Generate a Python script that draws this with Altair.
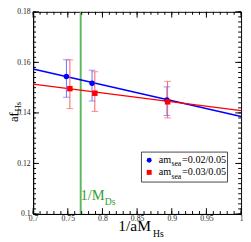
import altair as alt
import pandas as pd

# ---- data ----
series = ["0.02/0.05", "0.03/0.05"]
blue_x = [0.748, 0.785, 0.893]
blue_y = [0.1544, 0.1517, 0.1451]
blue_hi = [0.1610, 0.1569, 0.1503]
blue_lo = [0.1462, 0.1447, 0.1390]
red_x = [0.753, 0.789, 0.894]
red_y = [0.1496, 0.1478, 0.1444]
red_hi = [0.1610, 0.1563, 0.1525]
red_lo = [0.1417, 0.1406, 0.1380]
fit_x = [0.7, 1.0]
blue_fit = [0.1574, 0.1386]
red_fit = [0.1514, 0.1409]
inv_mds = 0.7686
x_major = [0.7, 0.75, 0.8, 0.85, 0.9, 0.95, 1.0]
y_major = [0.1, 0.12, 0.14, 0.16, 0.18]
x_minor = [round(0.7 + 0.01 * i, 3) for i in range(31)]
y_minor = [round(0.1 + 0.002 * i, 4) for i in range(41)]

W, H = 215, 209
FONT = "Liberation Serif"
BLUE, RED = "#0000ff", "#ff0000"

pts = pd.DataFrame({
    "x": blue_x + red_x,
    "y": blue_y + red_y,
    "hi": blue_hi + red_hi,
    "lo": blue_lo + red_lo,
    "s": [series[0]] * 3 + [series[1]] * 3,
})
fits = pd.DataFrame({
    "x": fit_x + fit_x,
    "y": blue_fit + red_fit,
    "s": [series[0]] * 2 + [series[1]] * 2,
})

xs = alt.Scale(domain=[0.7, 1.0], nice=False, zero=False)
ys = alt.Scale(domain=[0.1, 0.18], nice=False, zero=False)
col = alt.Scale(domain=series, range=[BLUE, RED])
ecol = alt.Scale(domain=series, range=["#6a6aff", "#ff5a5a"])

xaxis = alt.Axis(values=x_major, format="~g", title=None, ticks=False, tickSize=0,
                 labelFont=FONT, labelFontSize=8, labelColor="#222", grid=False,
                 labelFlush=False, labelOverlap=False, labelPadding=1,
                 domainColor="black")
yaxis = alt.Axis(values=y_major, format="~g", title=None, ticks=False, tickSize=0,
                 labelFont=FONT, labelFontSize=8, labelColor="#222", grid=False,
                 labelFlush=False, labelOverlap=False, labelPadding=3,
                 domainColor="black")

X = lambda f: alt.X(f, scale=xs, axis=xaxis, title=None)
Y = lambda f: alt.Y(f, scale=ys, axis=yaxis, title=None)

lines = alt.Chart(fits).mark_line(strokeWidth=1.5).encode(
    x=X("x:Q"), y=Y("y:Q"),
    color=alt.Color("s:N", scale=col, legend=None), detail="s:N")

vline = alt.Chart(pd.DataFrame({"x": [inv_mds]})).mark_rule(
    color="#5cb85c", strokeWidth=2).encode(x=X("x:Q"))

ebars = alt.Chart(pts).mark_rule(strokeWidth=1).encode(
    x=X("x:Q"), y=Y("lo:Q"), y2="hi:Q",
    color=alt.Color("s:N", scale=ecol, legend=None))
cap_hi = alt.Chart(pts).mark_tick(orient="horizontal", size=7, thickness=1).encode(
    x=X("x:Q"), y=Y("hi:Q"), color=alt.Color("s:N", scale=ecol, legend=None))
cap_lo = alt.Chart(pts).mark_tick(orient="horizontal", size=7, thickness=1).encode(
    x=X("x:Q"), y=Y("lo:Q"), color=alt.Color("s:N", scale=ecol, legend=None))

points = alt.Chart(pts).mark_point(filled=True, size=32, opacity=1).encode(
    x=X("x:Q"), y=Y("y:Q"),
    color=alt.Color("s:N", scale=col, legend=None),
    shape=alt.Shape("s:N", scale=alt.Scale(domain=series, range=["circle", "square"]), legend=None))

# inward ticks on all four sides
def xticks(vals, length, top):
    d = pd.DataFrame({"x": vals})
    y0, y1 = (0, length) if top else (H, H - length)
    return alt.Chart(d).mark_rule(color="black", strokeWidth=1).encode(
        x=X("x:Q"), y=alt.value(y0), y2=alt.value(y1))

def yticks(vals, length, right):
    d = pd.DataFrame({"y": vals})
    x0, x1 = (W, W - length) if right else (0, length)
    return alt.Chart(d).mark_rule(color="black", strokeWidth=1).encode(
        y=Y("y:Q"), x=alt.value(x0), x2=alt.value(x1))

ticks = [xticks(x_minor, 3, False), xticks(x_minor, 3, True),
         xticks(x_major, 6, False), xticks(x_major, 6, True),
         yticks(y_minor, 3, False), yticks(y_minor, 3, True),
         yticks(y_major, 6, False), yticks(y_major, 6, True)]

one = pd.DataFrame({"a": [0]})

def txt(s, x, y, size, color="black", angle=0):
    kw = dict(text=s, font=FONT, fontSize=size, color=color, align="left",
              baseline="alphabetic")
    if angle:
        kw["angle"] = angle
    return alt.Chart(one).mark_text(**kw).encode(x=alt.value(x), y=alt.value(y))

# legend box
box = alt.Chart(one).mark_rect(fill="white", stroke="#444", strokeWidth=1).encode(
    x=alt.value(112), x2=alt.value(201), y=alt.value(145), y2=alt.value(176))
sym1 = alt.Chart(one).mark_point(filled=True, shape="circle", size=26, color=BLUE,
                                 opacity=1).encode(x=alt.value(120), y=alt.value(153.5))
sym2 = alt.Chart(one).mark_point(filled=True, shape="square", size=26, color=RED,
                                 opacity=1).encode(x=alt.value(120), y=alt.value(166))

texts = [
    txt("am", 130, 156, 10.5), txt("sea", 143, 159.5, 8), txt("=" + series[0], 154, 156, 10.5),
    txt("am", 130, 169, 10.5), txt("sea", 143, 172.5, 8), txt("=" + series[1], 154, 169, 10.5),
    txt("1/M", 49, 195, 15, "#33a033"), txt("Ds", 74, 200, 10, "#33a033"),
    txt("1/aM", 88, 226.5, 16), txt("Hs", 124, 233, 10),
    txt("af", -16, 114, 13, angle=270), txt("Hs", -13, 103, 9, angle=270),
]

chart = alt.layer(
    vline, lines, ebars, cap_hi, cap_lo, points, *ticks, box, sym1, sym2, *texts
).properties(
    width=W, height=H,
    autosize=alt.AutoSizeParams(type="none"),
    padding={"left": 26, "top": 0, "right": 2, "bottom": 25},
).configure_view(stroke="black", strokeWidth=1).resolve_scale(color="independent")

chart.save("out.html", embed_options={"renderer": "svg", "actions": False})
